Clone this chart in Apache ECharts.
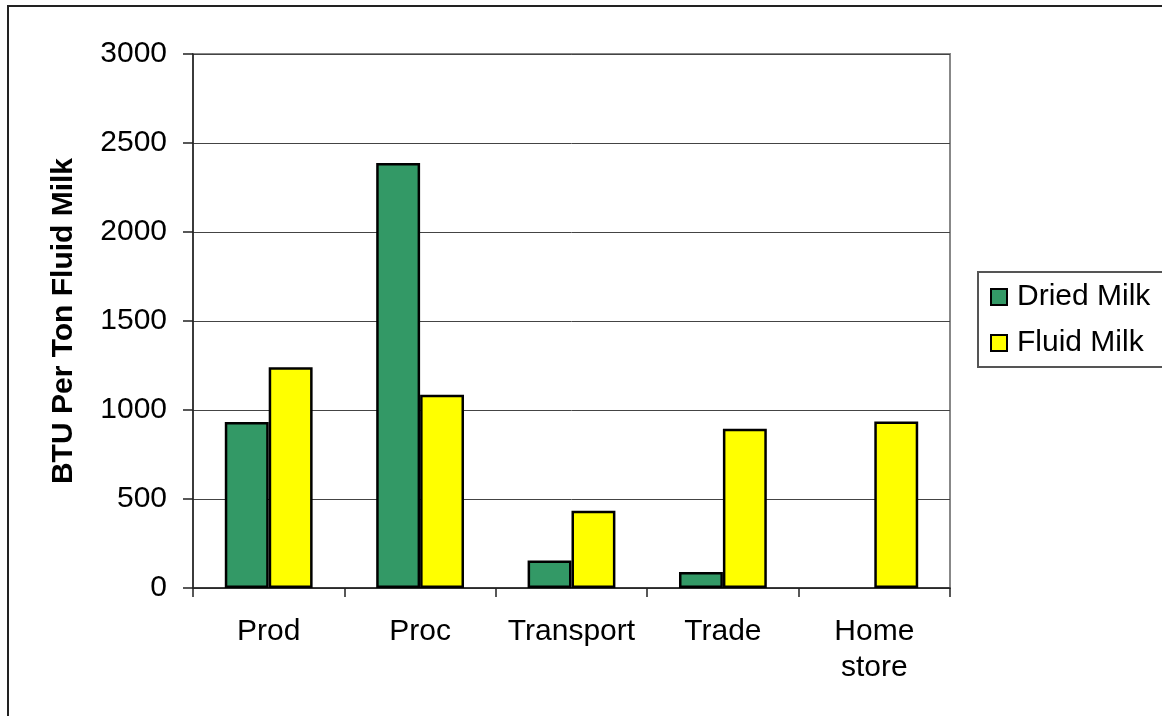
<!DOCTYPE html>
<html>
<head>
<meta charset="utf-8">
<script src="https://cdn.jsdelivr.net/npm/echarts@6/dist/echarts.min.js"></script>
<style>
  html, body { margin: 0; padding: 0; background: #fff; }
  #chart { width: 1162px; height: 716px; }
</style>
</head>
<body>
<div id="chart"></div>
<script>
// Energy use by stage of the milk supply chain
const categories = ['Prod', 'Proc', 'Transport', 'Trade', 'Home\nstore'];
const driedMilk = [932, 2388, 155, 90, null];
const fluidMilk = [1240, 1085, 434, 895, 935];
const yTicks = { min: 0, max: 3000, interval: 500 };

const font = 'Liberation Sans, Arial, sans-serif';
const chart = echarts.init(document.getElementById('chart'), null, { renderer: 'canvas' });

chart.setOption({
  backgroundColor: '#ffffff',
  animation: false,
  textStyle: { fontFamily: font, color: '#000' },
  graphic: [{
    type: 'rect',
    shape: { x: 8, y: 6, width: 1300, height: 900 },
    style: { fill: 'none', stroke: '#222', lineWidth: 2 },
    silent: true,
    z: -10
  }],
  grid: {
    left: 193, right: 212, top: 54, bottom: 128,
    show: true,
    borderColor: '#888',
    borderWidth: 2,
    backgroundColor: 'transparent'
  },
  legend: {
    left: 978, top: 272,
    orient: 'vertical',
    icon: 'rect',
    itemWidth: 16, itemHeight: 16,
    itemGap: 16,
    padding: [10, 20, 9, 12],
    borderColor: '#555',
    borderWidth: 2,
    backgroundColor: '#fff',
    textStyle: { fontSize: 30, lineHeight: 30, fontFamily: font, color: '#000', padding: [0, 0, 0, 5] },
    data: ['Dried Milk', 'Fluid Milk']
  },
  xAxis: {
    type: 'category',
    data: categories,
    axisLine: { lineStyle: { color: '#222', width: 1.5 } },
    axisTick: { show: true, length: 9, lineStyle: { color: '#222', width: 1.5 } },
    axisLabel: { fontSize: 30, lineHeight: 36, margin: 26, color: '#000', fontFamily: font, interval: 0 }
  },
  yAxis: {
    type: 'value',
    min: yTicks.min, max: yTicks.max, interval: yTicks.interval,
    name: 'BTU Per Ton Fluid Milk',
    nameLocation: 'middle',
    nameGap: 114,
    nameTextStyle: { fontSize: 30, fontWeight: 'bold', color: '#000', fontFamily: font },
    axisLine: { show: true, lineStyle: { color: '#222', width: 1.5 } },
    axisTick: { show: true, length: 10, lineStyle: { color: '#222', width: 1.5 } },
    axisLabel: { fontSize: 30, margin: 26, color: '#000', fontFamily: font, formatter: v => String(v) },
    splitLine: { show: true, lineStyle: { color: '#444', width: 1 } }
  },
  series: [
    {
      name: 'Dried Milk',
      type: 'bar',
      data: driedMilk,
      barGap: '0%',
      barCategoryGap: '42%',
      itemStyle: { color: '#339966', borderColor: '#000', borderWidth: 2.5 }
    },
    {
      name: 'Fluid Milk',
      type: 'bar',
      data: fluidMilk,
      barGap: '0%',
      barCategoryGap: '42%',
      itemStyle: { color: '#ffff00', borderColor: '#000', borderWidth: 2.5 }
    }
  ]
});
</script>
</body>
</html>
